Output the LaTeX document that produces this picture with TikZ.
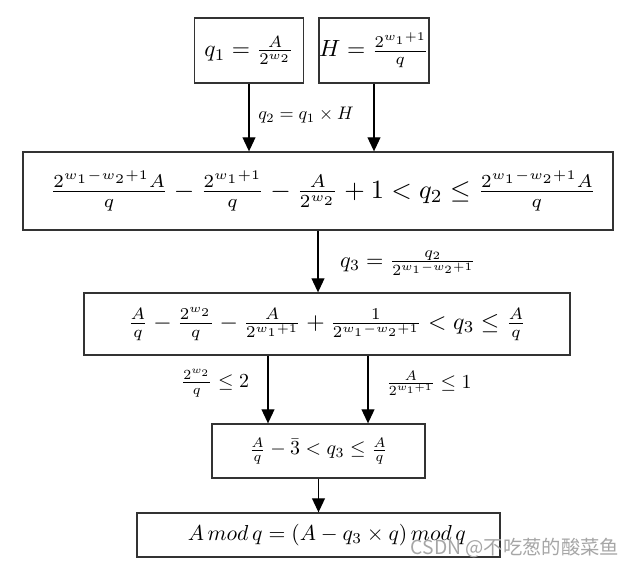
\documentclass[tikz,border=0pt]{standalone}
\usepackage{graphicx}
\usepackage{fontspec}
\newfontfamily\cjk{Noto Sans CJK SC}
\usepackage{tikz}
\usetikzlibrary{arrows.meta,positioning}

\begin{document}
\begin{tikzpicture}[x=0.03cm, y=-0.03cm,
  box/.style={draw=black!80, line width=1.1pt, inner sep=0pt, align=center},
  arr/.style={line width=1.2pt, -{Triangle[length=12pt, width=11pt]}},
  lbl/.style={inner sep=0pt}]
\useasboundingbox (0,0) rectangle (635,567);
% top boxes
\node[box, minimum width=3.27cm, minimum height=1.95cm] (qone) at (249,50.5)
  {\scalebox{2}{$q_1=\frac{A}{2^{w_2}}$}};
\node[box, minimum width=3.24cm, minimum height=1.95cm] (hval) at (374,50.5)
  {\scalebox{2}{$H=\frac{2^{w_1+1}}{q}$}};
% bounds
\node[box, minimum width=17.7cm, minimum height=2.34cm] (qtwo) at (318,191)
  {\hspace*{0.3cm}\scalebox{2.25}{$\frac{2^{w_1-w_2+1}A}{q}-\frac{2^{w_1+1}}{q}-\frac{A}{2^{w_2}}+1<q_2\le\frac{2^{w_1-w_2+1}A}{q}$}};
\node[box, minimum width=14.58cm, minimum height=1.86cm] (qthree) at (327,324)
  {\scalebox{2.02}{$\frac{A}{q}-\frac{2^{w_2}}{q}-\frac{A}{2^{w_1+1}}+\frac{1}{2^{w_1-w_2+1}}<q_3\le\frac{A}{q}$}};
\node[box, minimum width=6.39cm, minimum height=1.62cm] (bound) at (318.5,451)
  {\scalebox{1.7}{$\frac{A}{q}-\bar{3}<q_3\le\frac{A}{q}$}};
\node[box, minimum width=10.89cm, minimum height=1.32cm] (modq) at (318.5,535)
  {\hspace*{0.5cm}\scalebox{1.85}{$A\,mod\,q=(A-q_3\times q)\,mod\,q$}};
% connectors
\draw[arr] (qone.south) -- (qone.south |- qtwo.north);
\draw[arr] (hval.south) -- (hval.south |- qtwo.north);
\draw[arr] (qtwo.south) -- (qtwo.south |- qthree.north);
\coordinate (lft) at ([xshift=-1.515cm]bound.north);
\coordinate (rgt) at ([xshift=1.485cm]bound.north);
\draw[arr] (qthree.south -| lft) -- (lft);
\draw[arr] (qthree.south -| rgt) -- (rgt);
\draw[arr] (bound.south) -- (modq.north);
% labels
\node[lbl] (ltwo) at (306,115) {\scalebox{1.55}{$q_2=q_1\times H$}};
\node[lbl] (lthree) at (408,263) {\scalebox{1.9}{$q_3=\frac{q_2}{2^{w_1-w_2+1}}$}};
\node[lbl] (lleft) at (215,383) {\scalebox{1.7}{$\frac{2^{w_2}}{q}\le2$}};
\node[lbl] (lright) at (429,383) {\scalebox{1.7}{$\frac{A}{2^{w_1+1}}\le1$}};
% watermark
\node[lbl, text=black!35] (mark) at (515,548) {\cjk\fontsize{16.5}{18}\selectfont CSDN @不吃葱的酸菜鱼};
\end{tikzpicture}
\end{document}
